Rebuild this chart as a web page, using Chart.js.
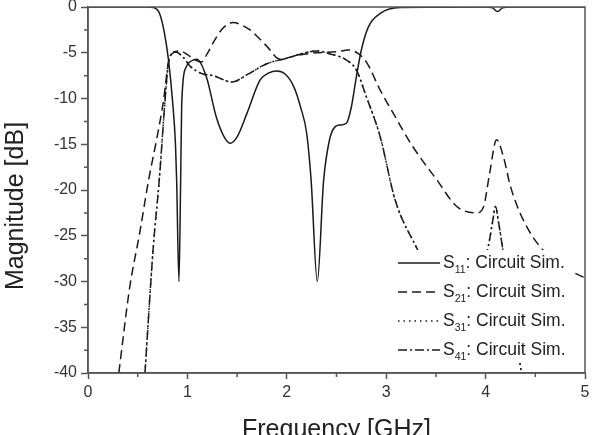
<!DOCTYPE html>
<html>
<head>
<meta charset="utf-8">
<script src="https://cdn.jsdelivr.net/npm/chart.js@4.4.1/dist/chart.umd.min.js"></script>
<style>
  html, body { margin: 0; padding: 0; background: #fff; }
  #wrap { width: 593px; height: 435px; }
</style>
</head>
<body>
<div id="wrap"><canvas id="sparamChart" width="593" height="435"></canvas></div>
<script>
// values (GHz, dB)
const s11Freq = [0, 0.6, 0.66, 0.72, 0.77, 0.81, 0.85, 0.88, 0.892, 0.915, 0.932, 0.943, 0.99, 1.04, 1.094, 1.19, 1.29, 1.36, 1.43, 1.5, 1.6, 1.73, 1.82, 1.9, 1.98, 2.07, 2.14, 2.2, 2.245, 2.307, 2.37, 2.43, 2.485, 2.535, 2.6, 2.65, 2.7, 2.75, 2.82, 2.94, 3.14, 4.0, 4.07, 4.12, 4.17, 4.25, 5];
const s11Mag  = [0, 0, -0.05, -0.7, -2.9, -5.8, -10.2, -15, -19, -30, -19, -10.5, -6.5, -5.9, -5.7, -7.6, -12, -14, -14.9, -14.2, -11.6, -8, -7.2, -7.0, -7.3, -8.7, -11, -13.8, -19, -30, -19, -14.5, -13.1, -12.9, -12.7, -10.9, -7.6, -4.7, -2.2, -0.7, -0.05, 0, -0.1, -0.5, -0.1, 0, 0];

const s21Freq = [0.31, 0.42, 0.52, 0.61, 0.69, 0.76, 0.81, 0.86, 0.925, 1.0, 1.08, 1.14, 1.2, 1.27, 1.35, 1.46, 1.55, 1.63, 1.8, 1.93, 2.1, 2.3, 2.5, 2.62, 2.72, 2.8, 2.94, 3.07, 3.27, 3.51, 3.71, 3.91, 3.98, 4.04, 4.11, 4.18, 4.25, 4.38, 4.58, 4.9, 5.0];
const s21Mag  = [-40, -30.6, -24.7, -18.9, -14.5, -10.2, -6.0, -5.0, -4.8, -5.2, -5.8, -6.0, -5.1, -3.7, -2.4, -1.7, -2.0, -2.5, -4.3, -5.7, -5.3, -5.0, -4.9, -4.7, -5.1, -6.0, -9.1, -11.6, -15.3, -18.9, -21.8, -22.5, -21.8, -18.2, -14.5, -16.4, -19.6, -23.3, -26.6, -29.1, -29.6];

const s41Freq = [0.573, 0.657, 0.717, 0.775, 0.808, 0.84, 0.87, 0.95, 1.03, 1.15, 1.26, 1.45, 1.6, 1.8, 2.0, 2.15, 2.3, 2.43, 2.6, 2.7, 2.8, 2.94, 3.09, 3.31, 3.5, 3.7, 3.85, 3.97, 4.03, 4.07, 4.1, 4.13, 4.18, 4.25, 4.36];
const s41Mag  = [-40, -26.2, -18.9, -10.2, -6.2, -5.1, -4.9, -5.4, -6.5, -7.3, -7.5, -8.2, -7.4, -6.2, -5.6, -5.1, -4.8, -5.1, -5.8, -6.9, -9.8, -14.2, -21.1, -26.4, -30.5, -35, -33, -28.5, -26, -23.5, -21.8, -23.5, -27, -32, -40];

// S31 lies under S41 in the figure
const s31Freq = s41Freq;
const s31Mag  = s41Mag;

const xTicks = [0, 1, 2, 3, 4, 5];
const yTicks = [0, -5, -10, -15, -20, -25, -30, -35, -40];

const FONT = '"Liberation Sans", Arial, Helvetica, sans-serif';
const INK = '#1a1a1a';
const AXIS = '#555';

function pts(xs, ys) { return xs.map((x, i) => ({ x, y: ys[i] })); }

const series = [
  { label: 'S11: Circuit Sim.', data: pts(s11Freq, s11Mag), dash: [], order: 1 },
  { label: 'S21: Circuit Sim.', data: pts(s21Freq, s21Mag), dash: [9, 5], order: 2 },
  { label: 'S31: Circuit Sim.', data: pts(s31Freq, s31Mag), dash: [1.5, 4], order: 4 },
  { label: 'S41: Circuit Sim.', data: pts(s41Freq, s41Mag), dash: [9, 3, 2, 3], order: 3 },
];

// white legend box inside the plot, with subscripts
const boxLegend = {
  id: 'boxLegend',
  afterDatasetsDraw(chart) {
    const ctx = chart.ctx;
    const x0 = 395, y0 = 250, w = 180, h = 113;
    ctx.save();
    ctx.fillStyle = '#fff';
    ctx.fillRect(x0, y0, w, h);
    chart.data.datasets.forEach((ds, i) => {
      const y = 263 + i * 29;
      ctx.strokeStyle = ds.borderColor;
      ctx.lineWidth = ds.borderWidth;
      ctx.setLineDash(ds.borderDash || []);
      ctx.beginPath();
      ctx.moveTo(398, y);
      ctx.lineTo(440, y);
      ctx.stroke();
      ctx.setLineDash([]);
      const m = ds.label.match(/^S(\d+)(.*)$/);
      ctx.fillStyle = '#222';
      ctx.textBaseline = 'middle';
      ctx.font = '17.5px ' + FONT;
      let tx = 443;
      ctx.fillText('S', tx, y);
      tx += ctx.measureText('S').width;
      ctx.font = '10.5px ' + FONT;
      ctx.fillText(m[1], tx, y + 7);
      tx += ctx.measureText(m[1]).width;
      ctx.font = '17.5px ' + FONT;
      ctx.fillText(m[2], tx, y);
    });
    ctx.restore();
  }
};

// closed frame, minor ticks and axis titles
const frame = {
  id: 'frame',
  afterDraw(chart) {
    const { ctx, chartArea: a, scales } = chart;
    ctx.save();
    ctx.strokeStyle = AXIS;
    ctx.lineWidth = 1.5;
    ctx.strokeRect(a.left, a.top, a.right - a.left, a.bottom - a.top);
    ctx.beginPath();
    for (let v = 0.5; v < 5; v += 1) {
      const px = scales.x.getPixelForValue(v);
      ctx.moveTo(px, a.bottom);
      ctx.lineTo(px, a.bottom + 4);
    }
    for (let v = -2.5; v > -40; v -= 5) {
      const py = scales.y.getPixelForValue(v);
      ctx.moveTo(a.left, py);
      ctx.lineTo(a.left - 4, py);
    }
    ctx.stroke();

    ctx.fillStyle = '#222';
    ctx.font = '25px ' + FONT;
    ctx.textAlign = 'center';
    ctx.textBaseline = 'alphabetic';
    ctx.fillText('Frequency [GHz]', (a.left + a.right) / 2, 437);
    ctx.translate(23, 206);
    ctx.rotate(-Math.PI / 2);
    ctx.fillText('Magnitude [dB]', 0, 0);
    ctx.restore();
  }
};

new Chart(document.getElementById('sparamChart'), {
  type: 'line',
  data: {
    datasets: series.map(s => ({
      label: s.label,
      data: s.data,
      borderColor: INK,
      borderWidth: 1.5,
      borderDash: s.dash,
      pointRadius: 0,
      fill: false,
      cubicInterpolationMode: 'monotone',
      order: s.order
    }))
  },
  options: {
    responsive: false,
    animation: false,
    devicePixelRatio: 1,
    layout: { padding: { top: 7, right: 8, left: 0, bottom: 0 } },
    plugins: { legend: { display: false }, tooltip: { enabled: false } },
    scales: {
      x: {
        type: 'linear', min: 0, max: 5,
        afterBuildTicks: s => { s.ticks = xTicks.map(v => ({ value: v })); },
        afterFit: s => { s.height = 62; s.paddingLeft = 0; s.paddingRight = 0; },
        ticks: { color: '#333', padding: 4, font: { family: FONT, size: 16 } },
        grid: { drawOnChartArea: false, tickLength: 6, tickColor: AXIS, tickWidth: 1.5 },
        border: { color: AXIS, width: 1.5 }
      },
      y: {
        type: 'linear', min: -40, max: 0,
        afterBuildTicks: s => { s.ticks = yTicks.map(v => ({ value: v })); },
        afterFit: s => { s.width = 88; s.paddingTop = 0; s.paddingBottom = 0; },
        ticks: { color: '#333', padding: 4, font: { family: FONT, size: 16 } },
        grid: { drawOnChartArea: false, tickLength: 7, tickColor: AXIS, tickWidth: 1.5 },
        border: { color: AXIS, width: 1.5 }
      }
    }
  },
  plugins: [boxLegend, frame]
});
</script>
</body>
</html>
